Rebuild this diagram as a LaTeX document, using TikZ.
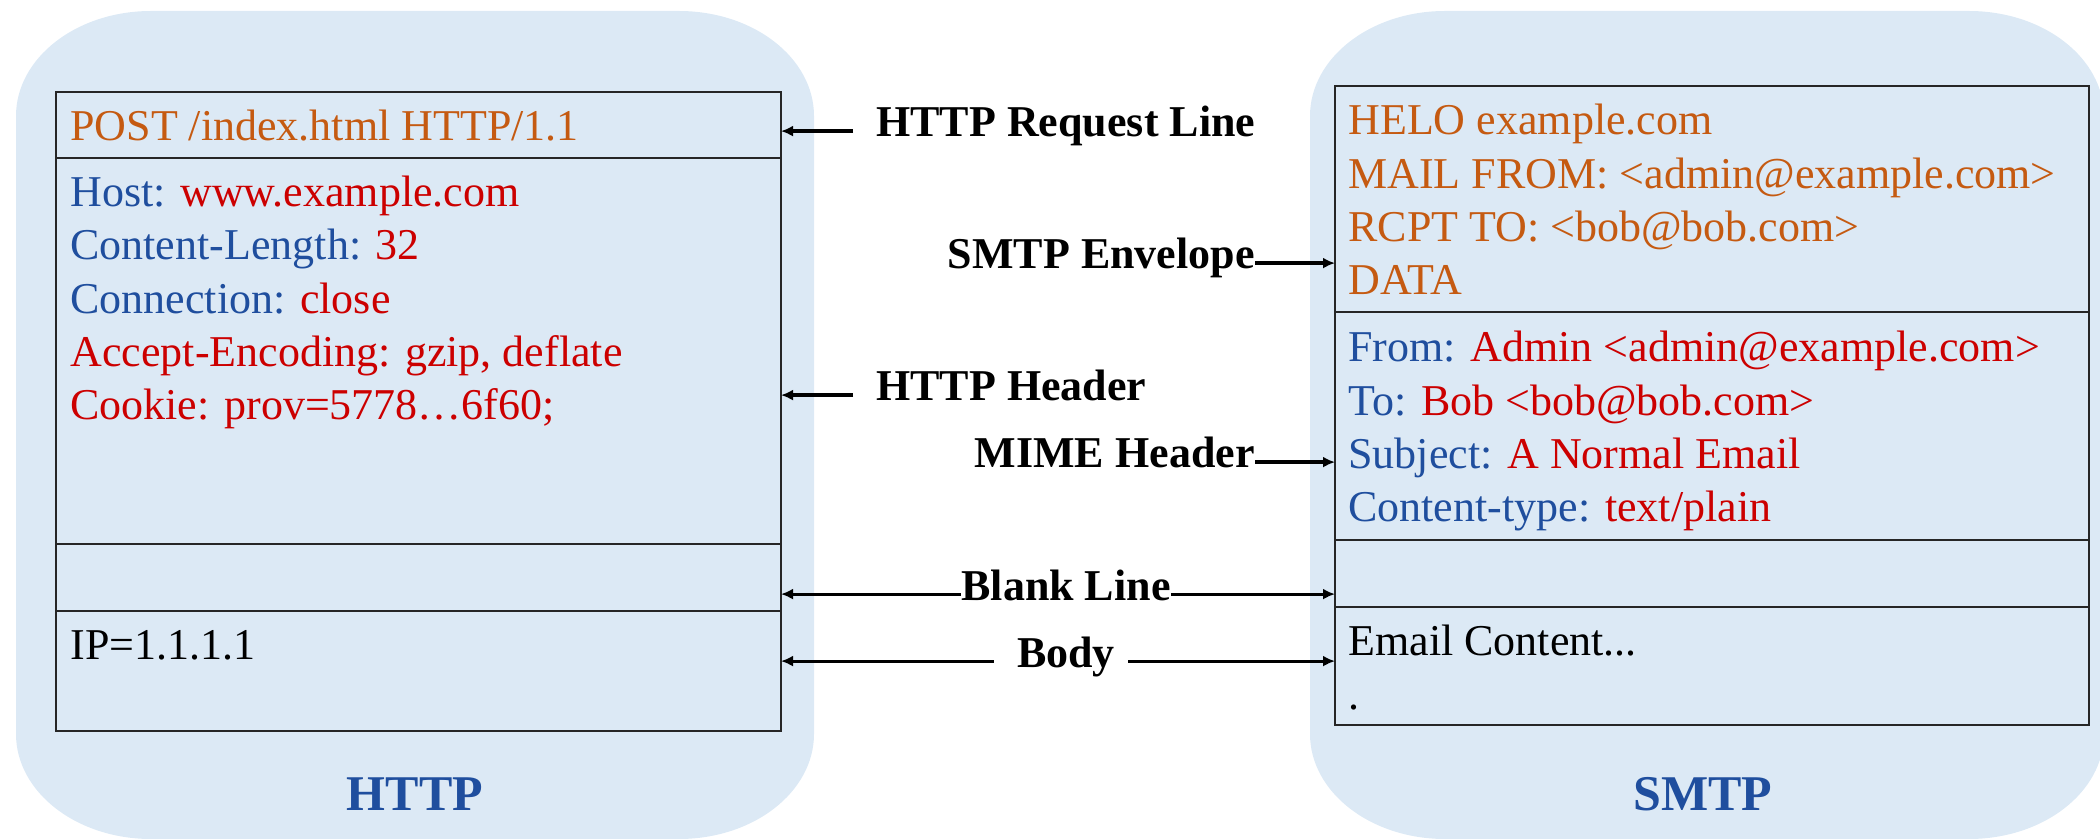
\documentclass[tikz,border=0pt]{standalone}
\usepackage{fontspec}
\setmainfont{Liberation Serif}
\usepackage{xcolor}
\usepackage{tikz}
\usetikzlibrary{arrows.meta,positioning}

\definecolor{panelblue}{RGB}{220,233,245}
\definecolor{keyblue}{RGB}{31,78,158}
\definecolor{valred}{RGB}{204,0,0}
\definecolor{cmdorange}{RGB}{197,90,17}

\newcommand{\hkey}[1]{\textcolor{keyblue}{#1}}
\newcommand{\hval}[1]{\textcolor{valred}{#1}}

\begin{document}
\begin{tikzpicture}[x=0.5pt, y=-0.5pt,
    cell/.style={rectangle, draw=black!85, line width=0.75pt, outer sep=0pt, inner sep=0pt},
    httpcell/.style={cell, minimum width=362.5pt},
    smtpcell/.style={cell, minimum width=377pt},
    txt/.style={inner sep=0pt, align=left, anchor=base west, font=\fontsize{22}{26.7}\selectfont},
    lbl/.style={inner sep=0pt, text height=0.69em, text depth=0.1em, font=\fontsize{22}{26}\selectfont\bfseries},
    title/.style={inner sep=0pt, anchor=base, text=keyblue, font=\fontsize{25}{30}\selectfont\bfseries},
    arrow/.style={-{Latex[length=6pt,width=5.5pt]}, line width=1.6pt}]

    \useasboundingbox (0,0) rectangle (2100,839);

    % rounded panels behind the two messages
    \fill[panelblue] (151,11) -- (679,11) arc[start angle=270, end angle=360, x radius=135, y radius=105]
        -- (814,734) arc[start angle=0, end angle=90, x radius=135, y radius=105]
        -- (151,839) arc[start angle=90, end angle=180, x radius=135, y radius=105]
        -- (16,116) arc[start angle=180, end angle=270, x radius=135, y radius=105] -- cycle;
    \fill[panelblue] (1445,11) -- (1969,11) arc[start angle=270, end angle=360, x radius=135, y radius=105]
        -- (2104,734) arc[start angle=0, end angle=90, x radius=135, y radius=105]
        -- (1445,839) arc[start angle=90, end angle=180, x radius=135, y radius=105]
        -- (1310,116) arc[start angle=180, end angle=270, x radius=135, y radius=105] -- cycle;

    % HTTP message (multi-line texts sit on the baseline of their last line)
    \node[httpcell, minimum height=33pt, anchor=north west] (reqline) at (56,92) {};
    \node[httpcell, minimum height=193pt, below=0pt of reqline] (header) {};
    \node[httpcell, minimum height=33.5pt, below=0pt of header] (blank) {};
    \node[httpcell, minimum height=60pt, below=0pt of blank] (body) {};

    \node[txt, text=cmdorange] (reqtext) at ([shift={(14,49)}]reqline.north west) {POST /index.html HTTP/1.1};
    \node[txt] (hdrtext) at ([shift={(14,262)}]header.north west)
        {\hkey{Host:} \hval{www.example.com}\\
         \hkey{Content-Length:} \hval{32}\\
         \hkey{Connection:} \hval{close}\\
         \hval{Accept-Encoding: gzip, deflate}\\
         \hval{Cookie: prov=5778…6f60;}};
    \node[txt] (bodytext) at ([shift={(14,49)}]body.north west) {IP=1.1.1.1};

    \node[title] (httptitle) at (415,810) {HTTP};

    % SMTP message
    \node[smtpcell, minimum height=113pt, anchor=north west] (envelope) at (1335,86) {};
    \node[smtpcell, minimum height=114pt, below=0pt of envelope] (mime) {};
    \node[smtpcell, minimum height=33.5pt, below=0pt of mime] (sblank) {};
    \node[smtpcell, minimum height=59pt, below=0pt of sblank] (sbody) {};

    \node[txt, text=cmdorange] (envtext) at ([shift={(13,209)}]envelope.north west)
        {HELO example.com\\
         MAIL FROM: <admin@example.com>\\
         RCPT TO: <bob@bob.com>\\
         DATA};
    \node[txt] (mimetext) at ([shift={(13,210)}]mime.north west)
        {\hkey{From:} \hval{Admin <admin@example.com>}\\
         \hkey{To:} \hval{Bob <bob@bob.com>}\\
         \hkey{Subject:} \hval{A Normal Email}\\
         \hkey{Content-type:} \hval{text/plain}};
    \node[txt] (sbodytext) at ([shift={(13,102)}]sbody.north west) {Email Content...\\.};

    \node[title] (smtptitle) at (1703,810) {SMTP};

    % labels in the middle
    \node[lbl, anchor=base west] (lreq) at (876,137) {HTTP Request Line};
    \node[lbl, anchor=base west] (lhdr) at (876,401) {HTTP Header};
    \node[lbl, anchor=base east] (lenv) at (1255,269) {SMTP Envelope};
    \node[lbl, anchor=base east] (lmime) at (1255,468) {MIME Header};
    \node[lbl, anchor=base] (lblank) at (1066,600) {Blank Line};
    \node[lbl, anchor=base] (lbody) at (1066,667) {Body};

    \draw[arrow, shorten <=11.5pt] (lreq.west) -- (lreq.west -| reqline.east);
    \draw[arrow, shorten <=11.5pt] (lhdr.west) -- (lhdr.west -| header.east);
    \draw[arrow] (lenv.east) -- (lenv.east -| envelope.west);
    \draw[arrow] (lmime.east) -- (lmime.east -| mime.west);
    \draw[arrow] (lblank.west) -- (lblank.west -| blank.east);
    \draw[arrow] (lblank.east) -- (lblank.east -| sblank.west);
    \draw[arrow, shorten <=11.5pt] (lbody.west) -- (lbody.west -| body.east);
    \draw[arrow, shorten <=6.5pt] (lbody.east) -- (lbody.east -| sbody.west);
\end{tikzpicture}
\end{document}
